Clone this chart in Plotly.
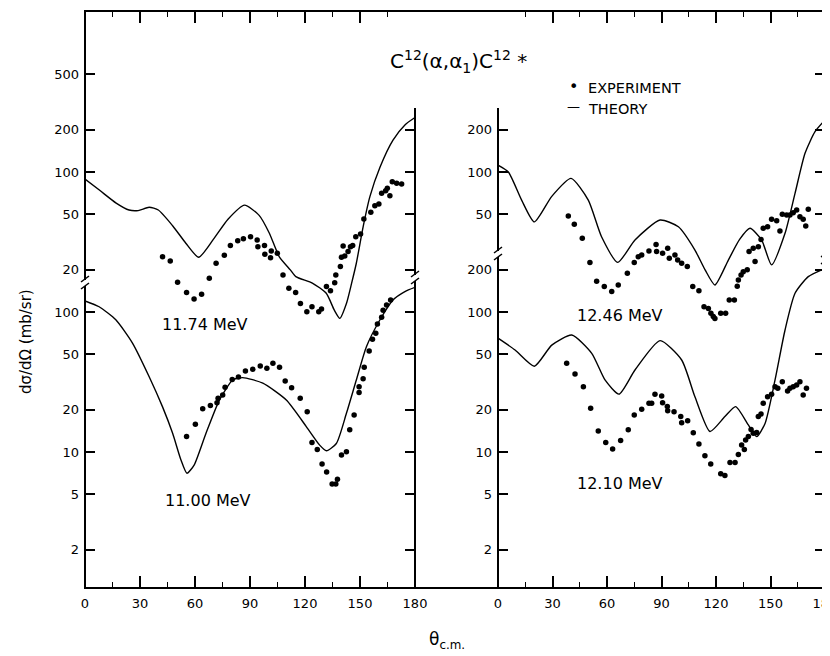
import plotly.graph_objects as go

# ---------------- data (theta in degrees c.m., cross section in mb/sr) ----------------
# 11.74 MeV (upper left)
th_1174_theory = [0, 8, 17, 24, 29, 35, 40, 48, 55, 62, 70, 78, 87, 95, 100.5, 106, 112, 115,
                  124, 131.6, 136, 139, 142.6, 145.4, 148, 151.7, 155.4, 161, 168, 174.5, 180]
sg_1174_theory = [89, 74, 60, 53.5, 53, 56, 53.5, 41, 31, 24.6, 33, 46, 58, 49, 36.7, 24.8, 20, 17.9,
                  16.1, 13.6, 10.3, 9.0, 11.5, 16, 22.3, 40.6, 66.7, 109, 169, 217, 245]
th_1174_exp = [42.3, 46.5, 50.5, 55.4, 59.5, 63.6, 67.8, 71.5, 76, 79.3, 83.3, 86.4, 90.3, 93.9, 94.3,
               97.9, 98.1, 101.2, 101.6, 104.9, 108, 111.2, 114.9, 117.5, 121, 123.8, 127.5, 129,
               131.7, 133.9, 136.2, 136.8, 139.3, 139.9, 141.7, 140.8, 143.5, 144.8, 146, 147.7,
               150.3, 152.1, 155.9, 158.1, 160.3, 161.8, 164, 164.9, 166.3, 167.6, 170, 172.7]
sg_1174_exp = [24.8, 23.1, 16.3, 13.8, 12.4, 13.4, 17.4, 22.3, 25.4, 29.8, 32.3, 33.4, 34.5, 32.7, 29.3,
               29.8, 25.8, 24.4, 27.3, 26.3, 18.4, 14.8, 13.8, 11.5, 10.05, 10.9, 10.05, 10.5,
               15.2, 14.2, 16.2, 18.4, 21.1, 24.6, 25.1, 29.6, 27, 29.3, 29.8, 34.5,
               36.1, 46.2, 51.5, 57.4, 59.1, 70.4, 73.5, 76.5, 67.8, 85.3, 83, 82]

# 11.00 MeV (lower left)
th_1100_theory = [0, 7.7, 16.8, 25.9, 35, 42.3, 47.8, 52.3, 55.6, 59.6, 66, 73.3, 80.6, 86, 97, 109.8,
                  120.7, 128, 131.7, 137.1, 142.6, 148, 153.5, 160.9, 168, 174.5, 180]
sg_1100_theory = [120, 109, 88, 60, 34.5, 21, 13.6, 8.8, 7.05, 8.1, 13.6, 23.5, 32.7, 34, 31, 23.5,
                  15.2, 11.2, 10.2, 11.5, 18.9, 32.7, 56.5, 88, 122, 140, 150]
th_1100_exp = [55.4, 60.2, 64.2, 68.4, 72, 72.6, 75.1, 76.4, 80.3, 83.7, 87.5, 91.5, 95.6, 99.2, 102.5,
               106.1, 109.2, 112.7, 117.4, 121.2, 123.8, 126.7, 129.3, 131.8, 134.8, 136.8, 137.7,
               139.9, 142.6, 144.4, 146.8, 149.5, 149.5, 151.7, 152.3, 155, 156.8, 158.6, 159.5,
               161.8, 162.6, 164.5, 166.7]
sg_1100_exp = [12.9, 15.8, 20.4, 21.5, 22.5, 24.2, 25.5, 29, 33, 34.3, 37.9, 39, 41.1, 39.6, 43.1,
               40.3, 32.1, 28.8, 24.2, 19.4, 11.7, 10.4, 8.2, 7.2, 5.9, 5.9, 6.4,
               9.5, 10.05, 14.4, 18.4, 26.6, 29.3, 33.4, 40.3, 52.6, 63.8, 70.4, 82,
               91.7, 103, 112, 122]

# 12.46 MeV (upper right)
th_1246_theory = [0, 5.7, 13, 20, 29.6, 40.2, 49.7, 57, 65.9, 75.4, 89.2, 99.3, 108.4, 114, 119.4,
                  126.8, 133, 138.7, 145.1, 150.6, 158, 163.5, 169, 174.5, 180]
sg_1246_theory = [112, 100, 63, 44, 67, 90, 63, 34.5, 22.6, 32.7, 45.4, 40.6, 27.7, 20, 15.6,
                  23.5, 33, 39.6, 32.7, 21.7, 36.5, 70.4, 136, 194, 235]
th_1246_exp = [38.7, 42, 46.4, 50.6, 54.3, 58.5, 62.6, 66.2, 71.2, 75, 77.2, 79.1, 83.1, 87, 87.3,
               90.6, 93.4, 94.3, 97.4, 98.9, 101.1, 104.2, 107.2, 110.6, 113.4, 115.8, 117.2, 118.5,
               119.4, 122.6, 125.3, 127.3, 130.1, 131.7, 132.3, 133.8, 135, 137.2, 141.5, 138.2,
               140.5, 143.3, 144.8, 146, 148.4, 150.6, 153.4, 155.2, 156.5, 158.9, 160.7, 162.5,
               164.4, 166.2, 168, 169.4, 170.8]
sg_1246_exp = [48.5, 42.3, 33.6, 22.6, 16.6, 15.2, 14, 15.6, 18.9, 22.6, 24.8, 25.5, 27.3, 30.4, 27,
               26.3, 28.5, 24.2, 25.5, 23.5, 22.3, 21.1, 15.2, 14.2, 10.9, 10.6, 9.8, 9.3,
               9.0, 9.8, 9.8, 12.2, 12.2, 15.3, 16.9, 18.4, 19.4, 20, 22.9, 27,
               28.5, 29.3, 33, 39.6, 40.6, 45.9, 44.9, 37.9, 49.9, 49.3, 49.3, 51.2,
               53.5, 48, 45.9, 41.1, 54.2]

# 12.10 MeV (lower right)
th_1210_theory = [0, 9.4, 20, 29.6, 40.6, 51.6, 58.9, 66.6, 75.4, 89.2, 101.1, 108.4, 116.7, 124.9,
                  130.8, 137.8, 142.4, 147, 152.5, 158, 163.5, 170.8, 180]
sg_1210_theory = [65, 53.5, 41, 58, 68.5, 50.7, 32.7, 25.9, 38.5, 62.4, 45.4, 24.8, 14, 17.9,
                  21.1, 15.6, 12.9, 16, 32.7, 74.4, 136, 179, 205]
th_1210_exp = [37.8, 42.4, 47, 51, 55.2, 59.3, 63.1, 67.5, 71.7, 75, 79.1, 83.1, 84.6, 86.4, 90.1,
               90.6, 93.2, 93.4, 96.9, 100.6, 101.1, 104.4, 107.5, 110.6, 113.9, 117.1, 122.6,
               124.9, 127.7, 130.5, 132.3, 134.1, 135.6, 136.3, 137.8, 139.3, 140.5, 142.4, 143.3,
               144.8, 146, 148.4, 150.6, 152.5, 154, 156.5, 159.4, 160.7, 162.5, 164.4, 166.2,
               168, 169.8]
sg_1210_exp = [43, 36.1, 29.3, 20.5, 14.1, 11.7, 10.5, 12.1, 14.4, 18.4, 20.2, 22.3, 22.3, 25.8, 25.1,
               22.5, 21.1, 19.7, 19.4, 17.9, 16.2, 16.7, 13.7, 11.4, 9.4, 8.2, 7.0,
               6.8, 8.4, 8.4, 9.6, 11.2, 10.4, 12.2, 12.9, 14.5, 13.6, 13.8, 17.9,
               18.7, 22.3, 24.8, 25.9, 29.3, 28.5, 31.8, 27.3, 28.5, 29.3, 30.1, 31.8,
               25.5, 28.5]

x_ticks = [0, 30, 60, 90, 120, 150, 180]
x_minor = [15, 45, 75, 105, 135, 165]
ticks_upper_left = [20, 50, 100, 200, 500]
ticks_lower_left = [2, 5, 10, 20, 50, 100]
ticks_upper_right = [50, 100, 200]
ticks_lower_right = [2, 5, 10, 20, 50, 100, 200]

# ---------------- layout geometry (screen pixels) ----------------
W, H = 830, 656
OFF = 8  # the page body adds an 8 px margin around the figure
FONT = "DejaVu Sans"


def fx(p):
    return (p - OFF) / W


def fy(p):
    return 1 - (p - OFF) / H


Y_BOT, Y_TOP = 588, 11
DEC = 140.0  # pixels per decade
REF_PX = 312  # pixel where the lower scale reads 100
lo_range = [2 + (REF_PX - Y_BOT) / DEC, 2 + (REF_PX - Y_TOP) / DEC]
up_range = [r - 1 for r in lo_range]  # upper curves are displaced by one decade
ydom = [fy(Y_BOT), fy(Y_TOP)]
LEFT_X = (85, 415)
RIGHT_X = (498, 825)

fig = go.Figure()

dot = dict(size=5.5, color="black")
ln = dict(color="black", width=1.4, shape="spline", smoothing=0.6)

fig.add_trace(go.Scatter(x=th_1174_exp, y=sg_1174_exp, mode="markers", marker=dot, xaxis="x", yaxis="y"))
fig.add_trace(go.Scatter(x=th_1174_theory, y=sg_1174_theory, mode="lines", line=ln, xaxis="x", yaxis="y5"))
fig.add_trace(go.Scatter(x=th_1100_exp, y=sg_1100_exp, mode="markers", marker=dot, xaxis="x", yaxis="y2"))
fig.add_trace(go.Scatter(x=th_1100_theory, y=sg_1100_theory, mode="lines", line=ln, xaxis="x", yaxis="y7"))
fig.add_trace(go.Scatter(x=th_1246_exp, y=sg_1246_exp, mode="markers", marker=dot, xaxis="x2", yaxis="y3"))
fig.add_trace(go.Scatter(x=th_1246_theory, y=sg_1246_theory, mode="lines", line=ln, xaxis="x2", yaxis="y6"))
fig.add_trace(go.Scatter(x=th_1210_exp, y=sg_1210_exp, mode="markers", marker=dot, xaxis="x2", yaxis="y4"))
fig.add_trace(go.Scatter(x=th_1210_theory, y=sg_1210_theory, mode="lines", line=ln, xaxis="x2", yaxis="y8"))

tickfont = dict(family=FONT, size=13, color="black")


def yax(rng, vals, anchor, side="left", labels=True, overlaying=None):
    d = dict(type="log", domain=ydom, range=rng, anchor=anchor, side=side, automargin=False,
             showgrid=False, zeroline=False, showline=False,
             ticks="inside", ticklen=10, tickwidth=1.5, tickcolor="black",
             tickmode="array", tickvals=vals, ticktext=[str(v) for v in vals],
             showticklabels=labels, tickfont=tickfont, ticklabelstandoff=5)
    if overlaying:
        d["overlaying"] = overlaying
    return d


def xax(dom, anchor):
    return dict(domain=[fx(dom[0]), fx(dom[1])], range=[0, 180], anchor=anchor, automargin=False,
                showgrid=False, zeroline=False, showline=False,
                ticks="inside", ticklen=12, tickwidth=1.5, tickcolor="black",
                tickmode="array", tickvals=x_ticks, ticktext=[str(v) for v in x_ticks],
                minor=dict(tickmode="array", tickvals=x_minor, ticks="inside", ticklen=6,
                           tickwidth=1.2, tickcolor="black"),
                mirror="ticks", tickfont=tickfont, ticklabelstandoff=6)


fig.update_layout(
    width=W, height=H,
    margin=dict(l=0, r=0, t=0, b=0, pad=0, autoexpand=False),
    paper_bgcolor="white", plot_bgcolor="rgba(0,0,0,0)",
    showlegend=False,
    xaxis=xax(LEFT_X, "y"),
    xaxis2=xax(RIGHT_X, "y3"),
    yaxis=yax(up_range, ticks_upper_left, "x"),
    yaxis2=yax(lo_range, ticks_lower_left, "x", overlaying="y"),
    yaxis5=yax(up_range, ticks_upper_left[:-1], "x", side="right", labels=False, overlaying="y"),
    yaxis7=yax(lo_range, ticks_lower_left, "x", side="right", labels=False, overlaying="y"),
    yaxis3=yax(up_range, ticks_upper_right, "x2"),
    yaxis4=yax(lo_range, ticks_lower_right, "x2", overlaying="y3"),
    yaxis6=yax(up_range, ticks_upper_right + [500], "x2", side="right", labels=False, overlaying="y3"),
    yaxis8=yax(lo_range, ticks_lower_right, "x2", side="right", labels=False, overlaying="y3"),
)

# ---------------- frame lines and axis-break marks ----------------
shapes = []


def seg(x0, y0, x1, y1, w=2):
    shapes.append(dict(type="line", xref="paper", yref="paper", layer="above",
                       x0=fx(x0), y0=fy(y0), x1=fx(x1), y1=fy(y1),
                       line=dict(color="black", width=w)))


def broken_vline(x, ytop, ybreak, ybot):
    seg(x, ytop, x, ybreak - 3)
    seg(x, ybreak + 3, x, ybot)
    seg(x - 4, ybreak - 1, x + 4, ybreak - 7, 1.5)
    seg(x - 4, ybreak + 6, x + 4, ybreak, 1.5)


seg(84, Y_TOP, 826, Y_TOP, 2.2)
seg(84, Y_BOT, 826, Y_BOT, 2.2)
broken_vline(LEFT_X[0], Y_TOP, 283, Y_BOT)
broken_vline(LEFT_X[1], 108, 278, Y_BOT)
broken_vline(RIGHT_X[0], 108, 254, Y_BOT)
broken_vline(RIGHT_X[1], Y_TOP, 258, Y_BOT)
fig.update_layout(shapes=shapes)

# ---------------- texts ----------------
ann = []


def txt(x, y, s, size, xanchor="center", angle=0):
    ann.append(dict(xref="paper", yref="paper", x=fx(x), y=fy(y), text=s, showarrow=False,
                    xanchor=xanchor, yanchor="middle", textangle=angle,
                    font=dict(family=FONT, size=size, color="black")))


txt(458, 61, "C<sup>12</sup>(α,α<sub>1</sub>)C<sup>12</sup> *", 20)
txt(573, 87, "•", 16)
txt(586, 88, "EXPERIMENT", 14.5, xanchor="left")
txt(573, 107, "—", 13)
txt(586, 109, "THEORY", 14.5, xanchor="left")
txt(205, 324, "11.74 MeV", 16)
txt(208, 500, "11.00 MeV", 16)
txt(620, 315, "12.46 MeV", 16)
txt(620, 483, "12.10 MeV", 16)
txt(26, 342, "dσ/dΩ (mb/sr)", 15, angle=-90)
txt(447, 640, "θ<sub>c.m.</sub>", 17)
fig.update_layout(annotations=ann)

fig.write_html("out.html")
